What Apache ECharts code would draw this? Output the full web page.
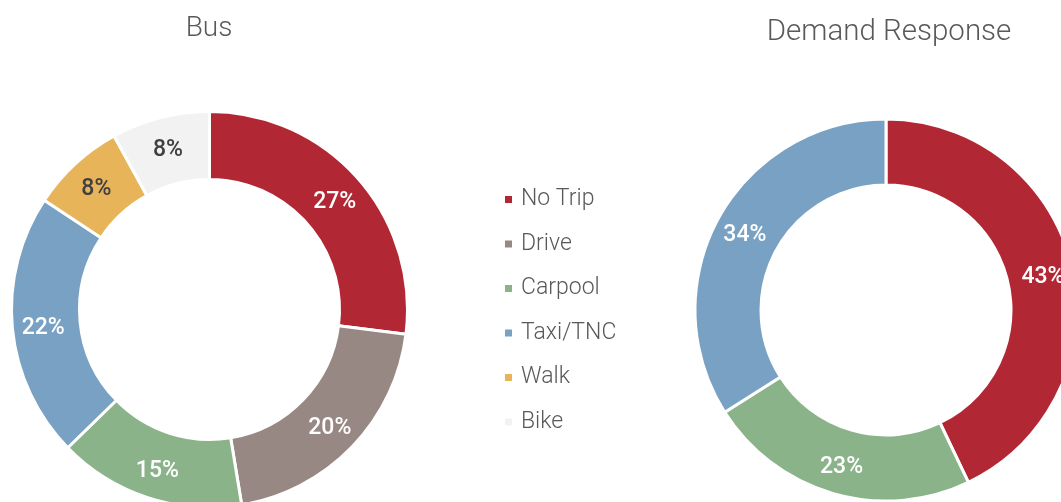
<!DOCTYPE html>
<html>
<head>
<meta charset="utf-8">
<script src="https://cdn.jsdelivr.net/npm/echarts@6/dist/echarts.min.js"></script>
<style>
  html, body { margin: 0; padding: 0; background: #fff; }
  #chart { width: 1061px; height: 502px; }
</style>
</head>
<body>
<div id="chart"></div>
<script>
const modes = ["No Trip", "Drive", "Carpool", "Taxi/TNC", "Walk", "Bike"]
const modeColors = ["#B22734", "#988883", "#8BB38A", "#79A1C3", "#E7B45A", "#F2F2F2"]
const darkLabelModes = ["Walk", "Bike"]

// shares in percent, labels show them rounded
const busValues = [27.0, 20.4, 15.3, 21.6, 7.7, 8.0]
const demandModes = ["No Trip", "Carpool", "Taxi/TNC"]
const demandValues = [42.9, 23.1, 34.0]

const toSlices = (names, values) =>
  names.map((name, i) => ({
    name,
    value: values[i],
    itemStyle: { color: modeColors[modes.indexOf(name)] },
    label: { color: darkLabelModes.includes(name) ? "#404040" : "#ffffff" },
  }))

const pieBase = {
  type: "pie",
  startAngle: 90,
  clockwise: true,
  avoidLabelOverlap: false,
  emphasis: { disabled: true },
  itemStyle: { borderColor: "#ffffff", borderWidth: 3 },
  label: {
    show: true,
    position: "inside",
    formatter: (p) => `${Math.round(p.value)}%`,
    fontFamily: "Roboto",
    fontSize: 23,
    fontWeight: 500,
    offset: [0, 3],
  },
  labelLine: { show: false },
}

const titleStyle = { fontFamily: "Roboto", fontWeight: 300, color: "#595959" }

const chart = echarts.init(document.getElementById("chart"))
chart.setOption({
  animation: false,
  title: [
    {
      text: "Bus",
      left: 209,
      top: 15,
      padding: 0,
      textAlign: "center",
      textStyle: { ...titleStyle, fontSize: 28 },
    },
    {
      text: "Demand Response",
      left: 889,
      top: 18,
      padding: 0,
      textAlign: "center",
      textStyle: { ...titleStyle, fontSize: 29.5 },
    },
  ],
  legend: {
    data: modes,
    orient: "vertical",
    left: 503,
    top: 188,
    padding: 0,
    icon: "rect",
    itemWidth: 9,
    itemHeight: 9,
    itemGap: 21.5,
    textStyle: {
      fontFamily: "Roboto",
      fontWeight: 300,
      fontSize: 23,
      color: "#595959",
      padding: [0, 0, 0, 3],
    },
  },
  series: [
    {
      ...pieBase,
      name: "Bus",
      center: [209.5, 309.5],
      radius: [130, 198],
      data: toSlices(modes, busValues),
    },
    {
      ...pieBase,
      name: "Demand Response",
      center: [886, 310],
      radius: [125, 191],
      data: toSlices(demandModes, demandValues),
    },
  ],
})
</script>
</body>
</html>
